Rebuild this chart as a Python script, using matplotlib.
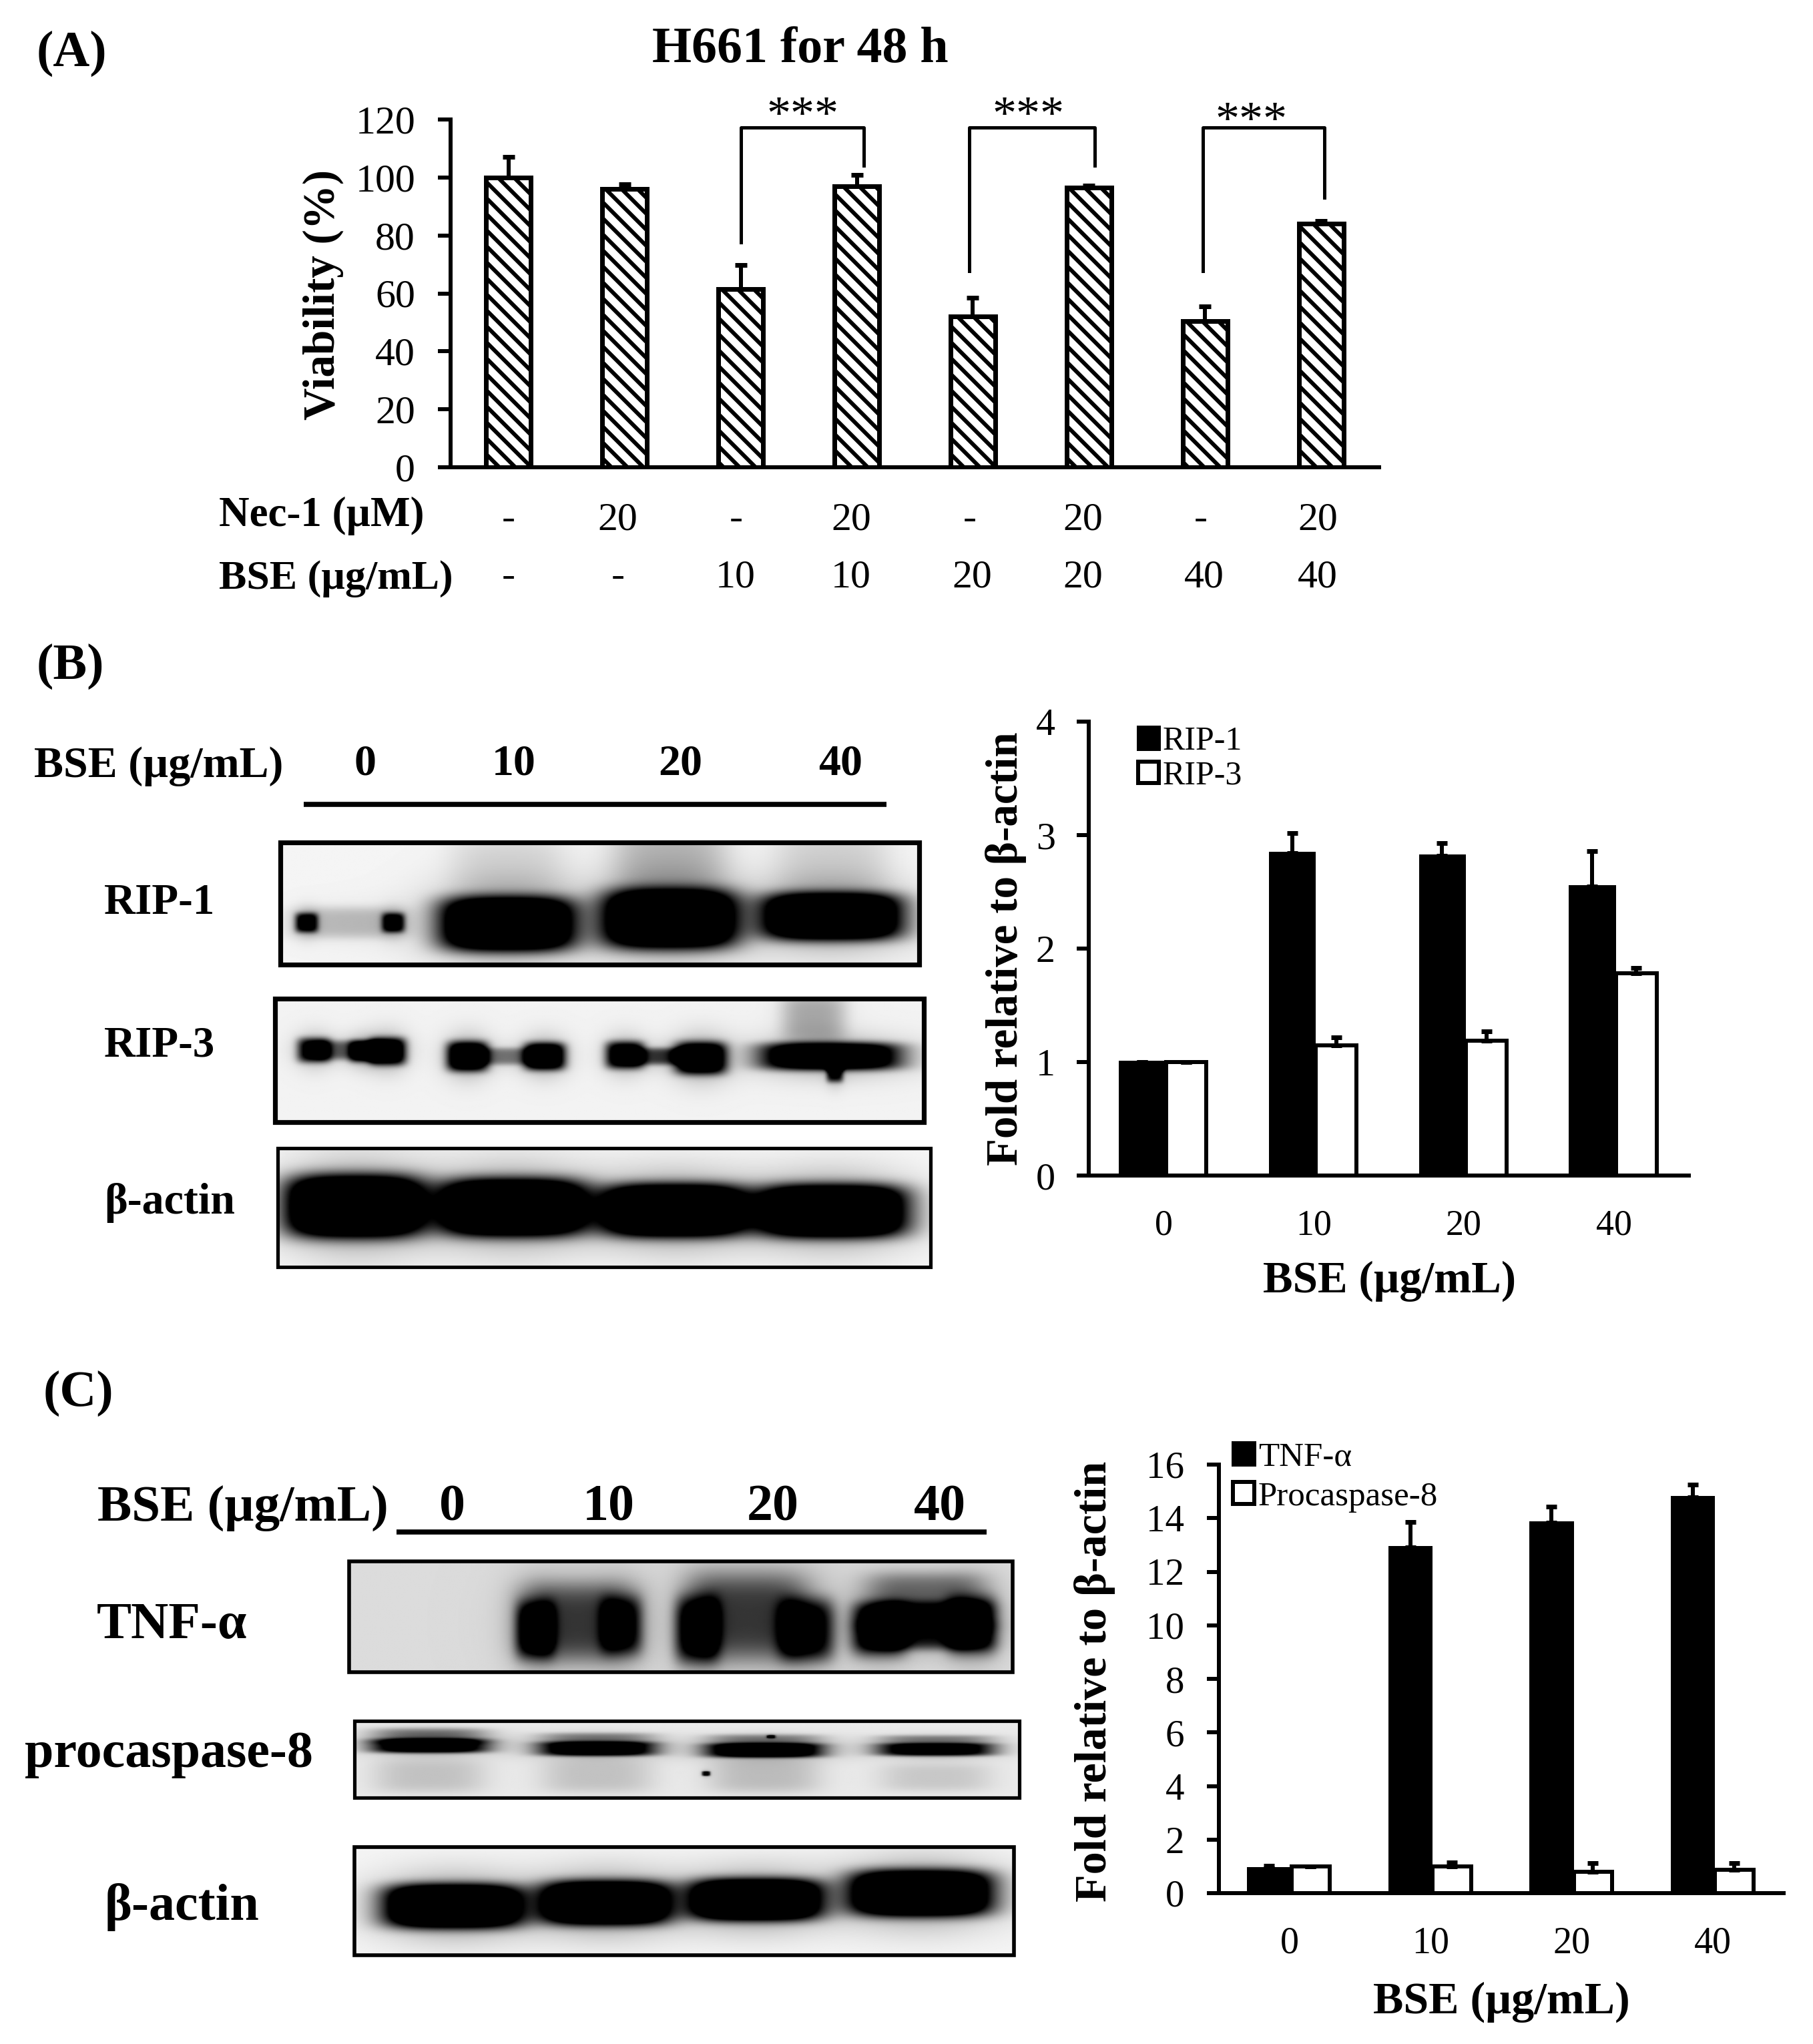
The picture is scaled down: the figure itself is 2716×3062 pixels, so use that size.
import numpy as np
import matplotlib
matplotlib.use("Agg")
import matplotlib.pyplot as plt
from matplotlib.patches import Rectangle

plt.rcParams['font.family'] = ['Liberation Serif', 'DejaVu Serif']
plt.rcParams['hatch.linewidth'] = 3

W, H = 2716, 3062

# panel A
via_values = [100, 96, 61.5, 97, 52, 96.5, 50.5, 84]
via_errors = [7, 1.7, 8.2, 3.8, 6.6, 0.6, 5, 1]
via_ticks = [0, 20, 40, 60, 80, 100, 120]
nec_row = ['-', '20', '-', '20', '-', '20', '-', '20']
bse_row = ['-', '-', '10', '10', '20', '20', '40', '40']
nec_row_x = [390, 474, 565, 653, 744, 831, 921, 1011]
bse_row_x = [390, 474, 564, 653, 746, 831, 924, 1011]
# left x, right x, left foot, right foot
brackets = [(2.0, 3.06, 77.6, 104), (3.97, 5.05, 67.7, 104), (5.98, 7.03, 67.7, 93)]
top_bracket = 117.3

# panel B
doses = ['0', '10', '20', '40']
rip1 = [1.0, 2.84, 2.82, 2.55]
rip1_err = [0, 0.18, 0.11, 0.31]
rip3 = [1.0, 1.15, 1.19, 1.78]
rip3_err = [0, 0.07, 0.08, 0.05]

# panel C
tnf = [0.93, 12.9, 13.82, 14.78]
tnf_err = [0.1, 0.96, 0.6, 0.47]
proc8 = [1.0, 1.0, 0.8, 0.87]
proc8_err = [0, 0.15, 0.31, 0.26]

# blot bands: x centre, y centre, half width, half height, strength (box fractions)
blot_rip1 = [(.04, .66, .018, .08, .9), (.176, .66, .018, .08, .9), (.108, .66, .09, .13, .2),
             (.355, .67, .106, .22, 1.6), (.61, .63, .106, .24, 1.6), (.865, .61, .11, .19, 1.6),
             (.355, .2, .09, .25, .1), (.61, .15, .09, .3, .2), (.865, .2, .09, .3, .12)]
blot_rip3 = [(.059, .42, .026, .1, .9), (.135, .43, .022, .09, .8), (.173, .43, .028, .11, 1.2), (.115, .42, .06, .08, .5),
             (.296, .47, .032, .12, 1.3), (.415, .47, .032, .11, 1.3), (.355, .47, .05, .07, .4),
             (.539, .46, .03, .11, 1.1), (.656, .485, .04, .13, 1.3), (.6, .47, .05, .07, .6),
             (.856, .47, .108, .11, 1.4), (.863, .6, .013, .08, .8), (.83, .15, .05, .2, .25)]
blot_actin_b = [(.117, .49, .106, .26, 1.7), (.36, .5, .112, .24, 1.7), (.607, .525, .11, .22, 1.7), (.85, .53, .114, .22, 1.7)]
blot_tnf = [(.28, .62, .03, .26, .8), (.41, .58, .032, .26, .65), (.345, .55, .09, .36, .6),
            (.525, .62, .034, .3, .85), (.69, .62, .042, .28, .9), (.6, .5, .09, .4, .6),
            (.8, .62, .042, .24, .85), (.94, .58, .038, .26, .85), (.87, .66, .09, .14, .7),
            (.87, .5, .09, .14, .55), (.87, .3, .09, .2, .4)]
blot_proc8 = [(.112, .33, .088, .09, 1.2), (.112, .2, .088, .1, .4), (.112, .72, .085, .22, .14),
              (.365, .37, .088, .09, 1.2), (.365, .24, .088, .08, .35), (.365, .72, .085, .22, .14),
              (.617, .39, .088, .09, 1.3), (.617, .26, .088, .08, .35), (.617, .72, .085, .22, .16),
              (.875, .38, .088, .08, 1.1), (.875, .26, .088, .07, .35), (.875, .74, .085, .18, .12),
              (.529, .69, .006, .03, 1.0), (.627, .21, .006, .02, .9)]
blot_actin_c = [(.149, .55, .105, .2, 1.7), (.381, .52, .098, .2, 1.7), (.609, .49, .1, .19, 1.7), (.86, .43, .108, .21, 1.7)]


def blot_image(bands, bg):
    yy, xx = np.mgrid[0:1:160j, 0:1:400j]
    d = np.zeros_like(xx)
    for xc, yc, wx, wy, amp in bands:
        dx, dy = xx - xc, yy - yc
        d += amp * np.exp(-(dx / wx)**4 - (dy / wy)**4)
        d += 0.25 * amp * np.exp(-(dx / (1.1 * wx))**2 - (dy / (1.5 * wy))**2)
    return bg * (1 - np.clip(d, 0, 1))


def make_axes(left, right, top, bottom):
    ax = fig.add_axes([left / W, 1 - bottom / H, (right - left) / W, (bottom - top) / H])
    ax.patch.set_alpha(0)
    ax.spines['top'].set_visible(False)
    ax.spines['right'].set_visible(False)
    ax.spines['left'].set_linewidth(3)
    ax.spines['bottom'].set_linewidth(3)
    return ax


def label(x, y, s, size, bold=True, ha='left', rot=0):
    # text sits about 3 units high with va center
    if rot:
        x += 2
    else:
        y += 3
    bg.text(x, y, s, fontsize=size, fontweight='bold' if bold else 'normal', ha=ha, va='center',
            rotation=rot, color='black')


def draw_blot(x0, x1, y0, y1, bands, grey, lw):
    bg.imshow(blot_image(bands, grey), cmap='gray', vmin=0, vmax=1, aspect='auto',
              extent=(x0, x1, y1, y0), interpolation='bilinear', zorder=1)
    bg.add_patch(Rectangle((x0, y0), x1 - x0, y1 - y0, fill=False, ec='black', lw=lw, zorder=2))


def pair_chart(ax, dark, dark_err, light, light_err, names, tick_size, x_size, ylim, yticks, pad, legend_at, legend_size, spacing):
    x = np.arange(4)
    err_kw = dict(ecolor='black', elinewidth=3, capsize=4, capthick=3.5)
    b1 = ax.bar(x - 0.145, dark, 0.29, color='black', ec='black', lw=2.5,
                yerr=[np.zeros(4), dark_err], error_kw=err_kw)
    b2 = ax.bar(x + 0.15, light, 0.27, color='white', ec='black', lw=3,
                yerr=[np.zeros(4), light_err], error_kw=err_kw)
    ax.set_xlim(-0.5, 3.5)
    ax.set_ylim(*ylim)
    ax.set_yticks(yticks)
    ax.set_xticks(x, doses)
    ax.tick_params(axis='y', length=9, width=3, labelsize=tick_size, pad=pad)
    ax.tick_params(axis='x', length=0, labelsize=x_size, pad=25)
    ax.legend([b1, b2], names, loc='upper left', bbox_to_anchor=legend_at, bbox_transform=bg.transData,
              frameon=False, fontsize=legend_size, borderpad=0, borderaxespad=0, handlelength=0.62,
              handleheight=0.62, handletextpad=0.12, labelspacing=spacing)


fig = plt.figure(figsize=(W / 144, H / 144), dpi=144, facecolor='white')

# full page layer for panel letters, row labels and blots
bg = fig.add_axes([0, 0, 1, 1])
bg.axis('off')

draw_blot(215, 705, 646, 740, blot_rip1, 0.96, 3.6)
draw_blot(211, 709, 766, 861, blot_rip3, 0.95, 3.6)
draw_blot(213, 714, 881, 972, blot_actin_b, 0.97, 2.6)
draw_blot(268, 777, 1198, 1283, blot_tnf, 0.86, 2.8)
draw_blot(272, 782, 1320, 1379, blot_proc8, 0.92, 2.6)
draw_blot(272, 778, 1417, 1500, blot_actin_c, 0.96, 2.8)
bg.set_xlim(0, 1391)
bg.set_ylim(1568, 0)

label(28, 38, '(A)', 38)
label(614, 35, 'H661 for 48 h', 38, ha='center')
label(246, 226, 'Viability (%)', 33.5, ha='center', rot=90)
label(168, 393, 'Nec-1 (µM)', 31.5)
label(168, 441, 'BSE (µg/mL)', 31)
for xp, s in zip(nec_row_x, nec_row):
    label(xp, 396, s, 30, bold=False, ha='center')
for xp, s in zip(bse_row_x, bse_row):
    label(xp, 440, s, 30, bold=False, ha='center')
for xp, yp in zip([616, 789, 960], [87, 87, 91]):
    label(xp, yp, '***', 36, bold=False, ha='center')

label(28, 508, '(B)', 38)
label(26, 585, 'BSE (µg/mL)', 33)
for xp, s in zip([280, 394, 522, 645], doses):
    label(xp, 583, s, 33, ha='center')
bg.plot([233, 680], [617, 617], color='black', lw=3.8, solid_capstyle='butt')
label(80, 690, 'RIP-1', 32.5)
label(80, 799, 'RIP-3', 32.5)
label(80, 920, 'β-actin', 33)
label(770, 728, 'Fold relative to β-actin', 33.5, ha='center', rot=90)
label(1066, 980, 'BSE (µg/mL)', 33.5, ha='center')

label(33, 1066, '(C)', 38)
label(75, 1154, 'BSE (µg/mL)', 38.5)
for xp, s in zip([347, 467, 593, 721], doses):
    label(xp, 1154, s, 39, ha='center')
bg.plot([304, 757], [1175, 1175], color='black', lw=3.8, solid_capstyle='butt')
label(74, 1244, 'TNF-α', 39)
label(19, 1343, 'procaspase-8', 39)
label(80, 1460, 'β-actin', 39)
label(838, 1290, 'Fold relative to β-actin', 34, ha='center', rot=90)
label(1152, 1533, 'BSE (µg/mL)', 34, ha='center')

# A: viability bars
ax = make_axes(675, 2066, 179, 700)
ax.bar(range(8), via_values, 0.385, color='white', ec='black', lw=3.5, hatch='\\\\',
       yerr=[np.zeros(8), via_errors], error_kw=dict(ecolor='black', elinewidth=3, capsize=4.3, capthick=3.5))
for xl, xr, foot_l, foot_r in brackets:
    ax.plot([xl, xl, xr, xr], [foot_l, top_bracket, top_bracket, foot_r], color='black', lw=2.5)
ax.set_xlim(-0.5, 7.5)
ax.set_ylim(0, 120)
ax.set_yticks(via_ticks)
ax.set_xticks([])
ax.tick_params(axis='y', length=9.5, width=3, labelsize=30, pad=17)

# B: RIP quantification
ax = make_axes(1631, 2530, 1081, 1761)
pair_chart(ax, rip1, rip1_err, rip3, rip3_err, ['RIP-1', 'RIP-3'], 29, 27, (0, 4), [0, 1, 2, 3, 4], 16,
           (873, 557), 25, 0.1)

# C: TNF quantification
ax = make_axes(1826, 2672, 2194, 2836)
pair_chart(ax, tnf, tnf_err, proc8, proc8_err, ['TNF-α', 'Procaspase-8'], 28.5, 28, (0, 16),
           list(range(0, 17, 2)), 17, (946, 1106), 25.5, 0.25)

fig.savefig('out.png', dpi=144)
